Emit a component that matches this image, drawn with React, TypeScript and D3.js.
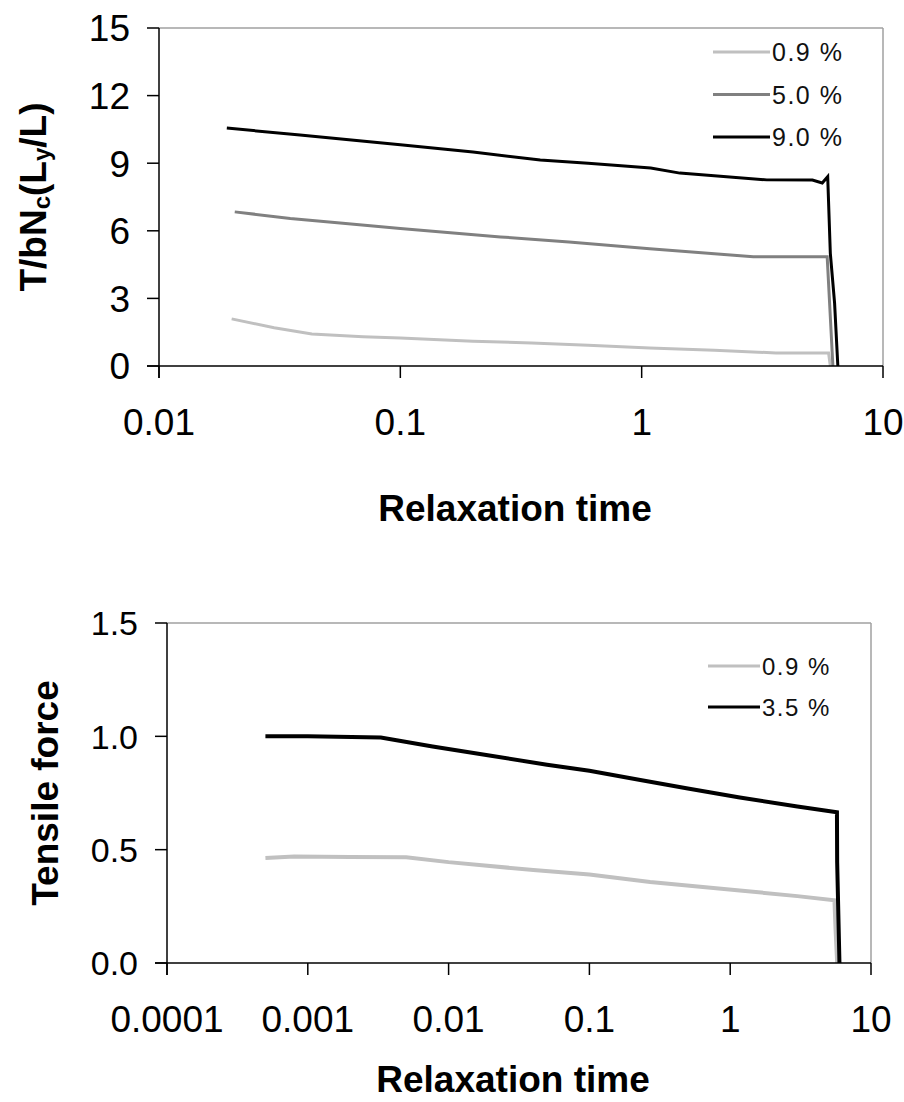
import React from "react";
import * as d3 from "d3";

// Upper panel: normalised tension vs relaxation time
const upperTime09 = [0.02, 0.03, 0.043, 0.07, 0.1, 0.2, 0.35, 0.6, 1.08, 2, 3.6, 5.95, 6.05];
const upperValue09 = [2.09, 1.7, 1.42, 1.3, 1.24, 1.1, 1.02, 0.92, 0.8, 0.7, 0.58, 0.58, 0];
const upperTime50 = [0.0206, 0.035, 0.0563, 0.1, 0.26, 0.5, 1.08, 2.9, 5.87, 6.2];
const upperValue50 = [6.84, 6.55, 6.35, 6.1, 5.73, 5.5, 5.2, 4.85, 4.85, 0];
const upperTime90 = [0.0191, 0.0384, 0.1, 0.2, 0.38, 0.6, 1.09, 1.44, 3.3, 5.1, 5.6, 5.9, 6.05, 6.3, 6.5];
const upperValue90 = [10.56, 10.25, 9.82, 9.5, 9.14, 9.0, 8.79, 8.56, 8.26, 8.25, 8.12, 8.4, 5.0, 2.8, 0];

// Lower panel: tensile force vs relaxation time
const lowerTime09 = [0.0005, 0.0008, 0.002, 0.005, 0.01, 0.04, 0.1, 0.27, 1.17, 3, 5.5, 5.6, 5.75];
const lowerValue09 = [0.463, 0.47, 0.468, 0.467, 0.445, 0.41, 0.39, 0.357, 0.32, 0.295, 0.277, 0.15, 0];
const lowerTime35 = [0.0005, 0.001, 0.0033, 0.0077, 0.02, 0.05, 0.1, 0.23, 0.5, 1.17, 3, 5.73, 5.75, 5.97];
const lowerValue35 = [1.0, 1.0, 0.995, 0.955, 0.914, 0.875, 0.848, 0.807, 0.77, 0.73, 0.69, 0.665, 0.445, 0];

const upperXTicks = [0.01, 0.1, 1, 10];
const upperXLabels = ["0.01", "0.1", "1", "10"];
const upperYTicks = [0, 3, 6, 9, 12, 15];
const lowerXTicks = [0.0001, 0.001, 0.01, 0.1, 1, 10];
const lowerXLabels = ["0.0001", "0.001", "0.01", "0.1", "1", "10"];
const lowerYTicks = [0, 0.5, 1.0, 1.5];

const upperLegend = ["0.9 %", "5.0 %", "9.0 %"];
const lowerLegend = ["0.9 %", "3.5 %"];

const LIGHT = "#c0c0c0";
const MID = "#808080";
const DARK = "#000000";
const FONT = "'Liberation Sans', Arial, sans-serif";

type Series = { t: number[]; v: number[]; color: string; width: number };

function Panel(props: {
  left: number; right: number; top: number; bottom: number;
  xDomain: [number, number]; yDomain: [number, number];
  xTicks: number[]; xLabels: string[]; yTicks: number[]; yFormat: (v: number) => string;
  yFont: number; series: Series[]; legend: string[]; legendColors: string[];
  legendX: number; legendY0: number; legendStep: number; legendLen: number; legendFont: number;
  yTitle: React.ReactNode; yTitleX: number; xTitleY: number; xLabelY: number;
}) {
  const p = props;
  const x = d3.scaleLog().domain(p.xDomain).range([p.left, p.right]);
  const y = d3.scaleLinear().domain(p.yDomain).range([p.bottom, p.top]);
  const line = d3.line<[number, number]>().x((d) => x(d[0])).y((d) => y(d[1]));
  const midY = (p.top + p.bottom) / 2;
  const midX = (p.left + p.right) / 2 - 6;
  return (
    <g fontFamily={FONT}>
      {/* frame: grey top/right, black axes */}
      <line x1={p.left} x2={p.right} y1={p.top} y2={p.top} stroke="#a0a0a0" strokeWidth={1.5} />
      <line x1={p.right} x2={p.right} y1={p.top} y2={p.bottom} stroke="#a0a0a0" strokeWidth={1.5} />
      {p.series.map((s, i) => (
        <path key={i} d={line(s.t.map((t, j) => [t, s.v[j]]) as [number, number][]) || ""}
          fill="none" stroke={s.color} strokeWidth={s.width} strokeLinejoin="miter" />
      ))}
      <line x1={p.left} x2={p.left} y1={p.top} y2={p.bottom + 12} stroke="#000" strokeWidth={1.5} />
      <line x1={p.left - 12} x2={p.right} y1={p.bottom} y2={p.bottom} stroke="#000" strokeWidth={1.5} />
      {p.yTicks.map((t) => (
        <g key={"y" + t}>
          <line x1={p.left - 12} x2={p.left} y1={y(t)} y2={y(t)} stroke="#000" strokeWidth={1.5} />
          <text x={p.left - 29} y={y(t)} dy="0.36em" textAnchor="end" fontSize={p.yFont}>{p.yFormat(t)}</text>
        </g>
      ))}
      {p.xTicks.map((t, i) => (
        <g key={"x" + t}>
          <line x1={x(t)} x2={x(t)} y1={p.bottom} y2={p.bottom + 12} stroke="#000" strokeWidth={1.5} />
          <text x={x(t)} y={p.xLabelY} textAnchor="middle" fontSize={37}>{p.xLabels[i]}</text>
        </g>
      ))}
      {p.legend.map((name, i) => (
        <g key={name}>
          <line x1={p.legendX} x2={p.legendX + p.legendLen} y1={p.legendY0 + i * p.legendStep}
            y2={p.legendY0 + i * p.legendStep} stroke={p.legendColors[i]} strokeWidth={3} />
          <text x={p.legendX + p.legendLen + 2} y={p.legendY0 + i * p.legendStep} dy="0.36em"
            fontSize={p.legendFont} letterSpacing={1.5} fill="#111">{name}</text>
        </g>
      ))}
      <text x={midX} y={p.xTitleY} textAnchor="middle" fontSize={37} fontWeight="bold">Relaxation time</text>
      <text transform={`translate(${p.yTitleX},${midY}) rotate(-90)`} textAnchor="middle"
        fontSize={37} fontWeight="bold">{p.yTitle}</text>
    </g>
  );
}

export default function App() {
  return (
    <svg width={904} height={1102} style={{ position: "absolute", left: 0, top: 0, background: "#fff" }}>
      <Panel
        left={159} right={883} top={28} bottom={366}
        xDomain={[0.01, 10]} yDomain={[0, 15]}
        xTicks={upperXTicks} xLabels={upperXLabels} yTicks={upperYTicks}
        yFormat={(v) => String(v)} yFont={37}
        series={[
          { t: upperTime09, v: upperValue09, color: LIGHT, width: 3 },
          { t: upperTime50, v: upperValue50, color: MID, width: 3 },
          { t: upperTime90, v: upperValue90, color: DARK, width: 3 },
        ]}
        legend={upperLegend} legendColors={[LIGHT, MID, DARK]}
        legendX={713} legendY0={52} legendStep={42.5} legendLen={57} legendFont={25}
        yTitle={<>T/bN<tspan fontSize={24} dy={4}>c</tspan><tspan dy={-4}>(L</tspan><tspan fontSize={24} dy={4}>y</tspan><tspan dy={-4}>/L)</tspan></>}
        yTitleX={46} xTitleY={521} xLabelY={435}
      />
      <Panel
        left={167} right={871} top={623} bottom={963}
        xDomain={[0.0001, 10]} yDomain={[0, 1.5]}
        xTicks={lowerXTicks} xLabels={lowerXLabels} yTicks={lowerYTicks}
        yFormat={(v) => d3.format(".1f")(v)} yFont={34}
        series={[
          { t: lowerTime09, v: lowerValue09, color: LIGHT, width: 4 },
          { t: lowerTime35, v: lowerValue35, color: DARK, width: 4 },
        ]}
        legend={lowerLegend} legendColors={[LIGHT, DARK]}
        legendX={708} legendY0={666} legendStep={41} legendLen={52} legendFont={24}
        yTitle={"Tensile force"}
        yTitleX={58} xTitleY={1092} xLabelY={1032}
      />
    </svg>
  );
}
